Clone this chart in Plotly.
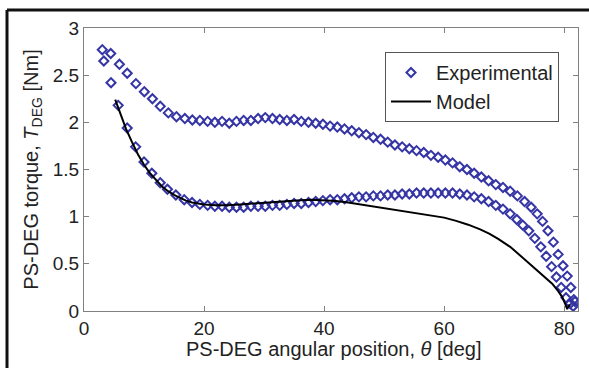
import plotly.graph_objects as go

# Experimental data - upper (loading) branch
exp_up_x = [3.05, 4.45, 5.9, 7.2, 8.65, 10.05, 11.4, 12.7, 14.05, 15.4, 16.8, 18.05, 19.3, 20.6,
            21.8, 23.0, 24.2, 25.4, 26.6, 27.8, 29.0, 30.2, 31.4, 32.6, 33.8, 35.0, 36.2, 37.4,
            38.6, 39.8, 41.0, 42.2, 43.4, 44.6, 45.8, 47.0, 48.2, 49.4, 50.6, 51.8, 53.0, 54.2,
            55.4, 56.6, 57.8, 59.0, 60.2, 61.4, 62.6, 63.8, 65.0, 66.2, 67.4, 68.6, 69.8, 71.0,
            72.2, 73.4, 74.5, 75.5, 76.4, 77.3, 78.2, 79.0, 79.8, 80.5, 81.1, 81.6]
exp_up_y = [2.77, 2.73, 2.615, 2.52, 2.41, 2.325, 2.25, 2.17, 2.10, 2.06, 2.04, 2.025, 2.02, 2.01,
            2.00, 2.01, 1.99, 2.01, 2.02, 2.02, 2.04, 2.05, 2.04, 2.03, 2.02, 2.03, 2.01, 2.00,
            1.99, 1.98, 1.96, 1.95, 1.93, 1.91, 1.89, 1.87, 1.84, 1.82, 1.79, 1.76, 1.74, 1.72,
            1.70, 1.68, 1.65, 1.63, 1.60, 1.57, 1.53, 1.50, 1.46, 1.42, 1.38, 1.34, 1.31, 1.27,
            1.22, 1.16, 1.10, 1.03, 0.95, 0.85, 0.73, 0.60, 0.48, 0.37, 0.25, 0.12]

# Experimental data - lower (unloading) branch
exp_lo_x = [3.3, 4.5, 5.7, 7.2, 8.6, 10.0, 11.3, 12.7, 13.9, 15.3, 16.7, 18.0, 19.3, 20.6,
            21.8, 23.0, 24.2, 25.4, 26.6, 27.8, 29.0, 30.2, 31.4, 32.6, 33.8, 35.0, 36.2, 37.4,
            38.6, 39.8, 41.0, 42.2, 43.4, 44.6, 45.8, 47.0, 48.2, 49.4, 50.6, 51.8, 53.0, 54.2,
            55.4, 56.6, 57.8, 59.0, 60.2, 61.4, 62.6, 63.8, 65.0, 66.2, 67.4, 68.6, 69.8, 71.0,
            72.1, 73.1, 74.1, 75.1, 76.1, 77.0, 77.9, 78.7, 79.5, 80.3, 81.0, 81.5, 81.8]
exp_lo_y = [2.65, 2.42, 2.18, 1.94, 1.74, 1.58, 1.46, 1.36, 1.29, 1.23, 1.18, 1.15, 1.13, 1.12,
            1.11, 1.11, 1.10, 1.10, 1.10, 1.11, 1.11, 1.11, 1.12, 1.12, 1.13, 1.14, 1.14, 1.15,
            1.16, 1.17, 1.18, 1.18, 1.19, 1.20, 1.21, 1.21, 1.22, 1.22, 1.23, 1.23, 1.24, 1.24,
            1.25, 1.25, 1.25, 1.25, 1.25, 1.25, 1.24, 1.23, 1.21, 1.19, 1.16, 1.12, 1.08, 1.03,
            0.97, 0.91, 0.85, 0.77, 0.68, 0.58, 0.47, 0.36, 0.25, 0.14, 0.08, 0.05, 0.10]

# Model curve
model_x = [5.2, 6, 7, 8, 9, 10, 11, 12, 13, 14, 15, 16, 17, 18, 19, 20, 22, 24, 26, 28, 30,
           32, 34, 36, 38, 40, 42, 44, 46, 48, 50, 52, 54, 56, 58, 60, 62, 64, 66, 67.5, 69,
           71, 73, 75, 77, 78, 79, 79.7, 80.2, 80.5, 80.9]
model_y = [2.24, 2.10, 1.93, 1.79, 1.66, 1.55, 1.46, 1.39, 1.32, 1.27, 1.23, 1.20, 1.17, 1.15,
           1.14, 1.13, 1.12, 1.12, 1.13, 1.14, 1.15, 1.16, 1.17, 1.175, 1.18, 1.175, 1.165,
           1.15, 1.13, 1.11, 1.09, 1.07, 1.05, 1.03, 1.015, 0.99, 0.955, 0.915, 0.865, 0.82,
           0.765, 0.68, 0.57, 0.46, 0.35, 0.29, 0.21, 0.145, 0.07, 0.02, 0.07]

x_ticks = [0, 20, 40, 60, 80]
y_ticks = [0, 0.5, 1, 1.5, 2, 2.5, 3]

FONT = "Liberation Sans, Arial, sans-serif"
MARK = "#3535a5"

fig = go.Figure()
fig.add_trace(go.Scatter(
    x=exp_up_x + exp_lo_x, y=exp_up_y + exp_lo_y, mode="markers", name="Experimental",
    marker=dict(symbol="diamond-open", size=7, color=MARK, line=dict(width=2, color=MARK)),
))
fig.add_trace(go.Scatter(
    x=model_x, y=model_y, mode="lines", name="Model",
    line=dict(color="black", width=2),
))

W, H = 589, 368
L, R, T, B = 84, 11, 28, 57
pw, ph = W - L - R, H - T - B

axis_common = dict(
    showline=True, linecolor="#808080", linewidth=1, mirror="ticks",
    ticks="inside", ticklen=5, tickcolor="#808080", tickwidth=1,
    showgrid=False, zeroline=False,
    tickfont=dict(family=FONT, size=19, color="#222222"),
)

fig.update_layout(
    width=W, height=H,
    margin=dict(l=L, r=R, t=T, b=B),
    paper_bgcolor="white", plot_bgcolor="white",
    font=dict(family=FONT, color="#222222"),
    xaxis=dict(range=[0, 82.3], tickvals=x_ticks, ticktext=[str(v) for v in x_ticks],
               **axis_common),
    yaxis=dict(range=[0, 3], tickvals=y_ticks, ticktext=[("%g" % v) for v in y_ticks],
               title=dict(text="PS-DEG torque, <i>T</i><sub>DEG</sub> [Nm]",
                          font=dict(family=FONT, size=20, color="#222222"), standoff=8),
               **axis_common),
    legend=dict(x=(385 - L) / pw, y=1 - (52 - T) / ph, xanchor="left", yanchor="top",
                bgcolor="white", bordercolor="#555555", borderwidth=1,
                font=dict(family=FONT, size=20, color="#222222"),
                tracegroupgap=0, itemwidth=40),
    showlegend=True,
)

# X-axis title as annotation (placed closer to tick labels, as in the reference)
fig.add_annotation(text="PS-DEG angular position, <i>θ</i> [deg]", xref="paper", yref="paper",
                   x=(333 - L) / pw, y=-(349 - (H - B)) / ph, xanchor="center", yanchor="middle",
                   showarrow=False, font=dict(family=FONT, size=20, color="#222222"))

# Outer frame lines (top and left) of the figure image
fx0 = (7 - L) / pw
fy0 = 1 + (T - 10) / ph
fig.add_shape(type="line", xref="paper", yref="paper", x0=fx0, x1=(W - L) / pw + 0.01,
              y0=fy0, y1=fy0, line=dict(color="#111111", width=3))
fig.add_shape(type="line", xref="paper", yref="paper", x0=fx0, x1=fx0,
              y0=fy0, y1=-(B + 5) / ph, line=dict(color="#111111", width=3))

fig.write_html("out.html")
